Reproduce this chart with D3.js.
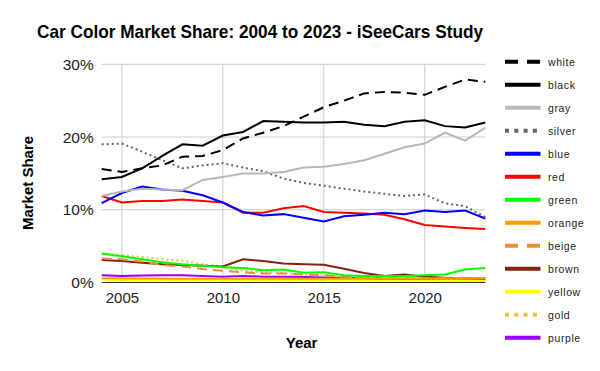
<!DOCTYPE html>
<html>
<head>
<meta charset="utf-8">
<script src="https://cdn.jsdelivr.net/npm/d3@7"></script>
<style>
body { margin: 0; background: #fff; }
text { font-family: "Liberation Sans", Arial, sans-serif; }
</style>
</head>
<body>
<script>
var years = [2004,2005,2006,2007,2008,2009,2010,2011,2012,2013,2014,2015,2016,2017,2018,2019,2020,2021,2022,2023];
var yTicks = [0, 10, 20, 30];
var xTicks = [2005, 2010, 2015, 2020];

// market share in %
var white  = [15.6,15.2,15.7,16.1,17.3,17.4,18.2,19.8,20.6,21.5,22.8,24.1,25.0,26.0,26.2,26.1,25.8,26.9,27.9,27.6];
var black  = [14.2,14.5,15.7,17.4,19.0,18.8,20.2,20.7,22.2,22.1,22.0,22.0,22.1,21.7,21.5,22.1,22.3,21.5,21.3,22.0];
var gray   = [11.9,12.5,12.9,12.8,12.7,14.1,14.5,15.0,15.0,15.2,15.8,15.9,16.3,16.8,17.7,18.6,19.1,20.6,19.5,21.3];
var silver = [19.0,19.1,18.0,16.8,15.7,16.1,16.4,15.8,15.3,14.3,13.7,13.3,12.9,12.5,12.2,11.9,12.1,10.9,10.5,9.0];
var blue   = [10.9,12.3,13.2,12.8,12.6,12.0,11.0,9.7,9.2,9.4,8.9,8.4,9.1,9.3,9.6,9.4,9.9,9.7,9.9,8.8];
var red    = [11.9,11.0,11.2,11.2,11.4,11.2,11.0,9.6,9.6,10.2,10.5,9.7,9.6,9.5,9.3,8.7,7.9,7.7,7.5,7.35];
var green  = [4.0,3.6,3.2,2.8,2.5,2.3,2.1,2.0,1.7,1.8,1.35,1.4,1.0,0.9,0.9,0.9,1.0,1.1,1.8,2.0];
var orange = [0.6,0.6,0.55,0.55,0.5,0.5,0.5,0.5,0.5,0.5,0.5,0.5,0.5,0.5,0.5,0.55,0.55,0.6,0.6,0.6];
var beige  = [3.3,3.2,2.9,2.4,2.2,1.85,1.6,1.4,1.25,1.25,1.1,1.0,0.8,0.7,0.7,0.6,0.6,0.6,0.6,0.6];
var brown  = [3.1,2.95,2.7,2.5,2.4,2.3,2.2,3.2,2.95,2.6,2.5,2.45,1.9,1.3,0.9,1.1,0.8,0.65,0.6,0.5];
var yellow = [0.4,0.35,0.35,0.35,0.3,0.3,0.3,0.3,0.3,0.3,0.3,0.3,0.3,0.25,0.25,0.25,0.25,0.25,0.25,0.25];
var gold   = [3.9,3.8,3.5,3.2,3.0,2.5,2.2,1.6,1.4,1.3,1.1,1.0,0.8,0.7,0.6,0.6,0.5,0.5,0.5,0.5];
var purple = [1.0,0.9,0.95,1.0,1.0,0.9,0.8,0.9,0.8,0.8,0.75,0.7,0.65,0.6,0.45,0.4,0.35,0.3,0.3,0.3];

var series = [
  {name: "white",  values: white,  color: "#000000", dash: "10,6",  legDash: "13,9"},
  {name: "black",  values: black,  color: "#000000", dash: null,    legDash: null},
  {name: "gray",   values: gray,   color: "#b7b7b7", dash: null,    legDash: null},
  {name: "silver", values: silver, color: "#666666", dash: "2,3",   legDash: "4,5.3"},
  {name: "blue",   values: blue,   color: "#0000ff", dash: null,    legDash: null},
  {name: "red",    values: red,    color: "#ff0000", dash: null,    legDash: null},
  {name: "green",  values: green,  color: "#00ff00", dash: null,    legDash: null},
  {name: "orange", values: orange, color: "#ff9900", dash: null,    legDash: null},
  {name: "beige",  values: beige,  color: "#e69138", dash: "10,6",  legDash: "13,9"},
  {name: "brown",  values: brown,  color: "#85200c", dash: null,    legDash: null},
  {name: "yellow", values: yellow, color: "#ffff00", dash: null,    legDash: null},
  {name: "gold",   values: gold,   color: "#f1c232", dash: "2,3",   legDash: "4,5.3"},
  {name: "purple", values: purple, color: "#9900ff", dash: null,    legDash: null}
];

var width = 600, height = 371;
var plot = {left: 101.7, right: 485.3, top: 64.3, bottom: 282.5};

var xScale = d3.scaleLinear().domain([2004, 2023]).range([plot.left, plot.right]);
var yScale = d3.scaleLinear().domain([0, 30]).range([plot.bottom, plot.top]);

var svg = d3.select("body").append("svg")
.attr("width", width)
.attr("height", height);

svg.append("rect").attr("width", width).attr("height", height).attr("fill", "#fff");

// title
svg.append("text")
.attr("x", 260)
.attr("y", 38)
.attr("text-anchor", "middle")
.attr("font-size", 18.5)
.attr("font-weight", "bold")
.attr("fill", "#000")
.attr("textLength", 446)
.attr("lengthAdjust", "spacingAndGlyphs")
.text("Car Color Market Share: 2004 to 2023 - iSeeCars Study");

// gridlines
svg.append("g").selectAll("line").data(yTicks.filter(function(d) { return d > 0; }))
.join("line")
.attr("x1", plot.left).attr("x2", plot.right)
.attr("y1", function(d) { return yScale(d); })
.attr("y2", function(d) { return yScale(d); })
.attr("stroke", "#cccccc").attr("stroke-width", 1);

svg.append("g").selectAll("line").data(xTicks)
.join("line")
.attr("x1", function(d) { return xScale(d); })
.attr("x2", function(d) { return xScale(d); })
.attr("y1", plot.top).attr("y2", plot.bottom)
.attr("stroke", "#cccccc").attr("stroke-width", 1);

// axes
var yAxis = d3.axisLeft(yScale).tickValues(yTicks).tickSize(0).tickPadding(8)
.tickFormat(function(d) { return d + "%"; });
var yAxisGroup = svg.append("g")
.attr("transform", "translate(" + plot.left + ",0)")
.call(yAxis);
yAxisGroup.select(".domain").remove();
yAxisGroup.selectAll("text")
.attr("font-size", 15.5).attr("fill", "#222")
.attr("font-family", "Liberation Sans, Arial, sans-serif");

var xAxis = d3.axisBottom(xScale).tickValues(xTicks).tickSize(0).tickPadding(10)
.tickFormat(d3.format("d"));
var xAxisGroup = svg.append("g")
.attr("transform", "translate(0," + plot.bottom + ")")
.call(xAxis);
xAxisGroup.select(".domain").remove();
xAxisGroup.selectAll("text")
.attr("font-size", 15).attr("fill", "#222")
.attr("font-family", "Liberation Sans, Arial, sans-serif");

// axis titles
svg.append("text")
.attr("x", xScale(2013.9))
.attr("y", 348)
.attr("text-anchor", "middle")
.attr("font-size", 15).attr("font-weight", "bold")
.text("Year");

svg.append("text")
.attr("transform", "translate(33,183) rotate(-90)")
.attr("text-anchor", "middle")
.attr("font-size", 15).attr("font-weight", "bold")
.text("Market Share");

// lines
var linePath = d3.line()
.x(function(d, i) { return xScale(years[i]); })
.y(function(d) { return yScale(d); });

svg.append("g").selectAll("path").data(series.slice().reverse())
.join("path")
.attr("d", function(s) { return linePath(s.values); })
.attr("fill", "none")
.attr("stroke", function(s) { return s.color; })
.attr("stroke-width", 2)
.attr("stroke-dasharray", function(s) { return s.dash; });

// baseline
svg.append("line")
.attr("x1", plot.left).attr("x2", plot.right)
.attr("y1", yScale(0)).attr("y2", yScale(0))
.attr("stroke", "#333").attr("stroke-width", 1);

// legend
var legend = svg.append("g").selectAll("g").data(series)
.join("g")
.attr("transform", function(d, i) { return "translate(505," + (61.7 + i * 23) + ")"; });

legend.append("line")
.attr("x1", 0).attr("x2", 35.5)
.attr("stroke", function(s) { return s.color; })
.attr("stroke-width", 4)
.attr("stroke-dasharray", function(s) { return s.legDash; });

legend.append("text")
.attr("x", 43)
.attr("y", 4)
.attr("font-size", 10.5)
.attr("letter-spacing", 0.6)
.attr("fill", "#222")
.text(function(s) { return s.name; });
</script>
</body>
</html>
